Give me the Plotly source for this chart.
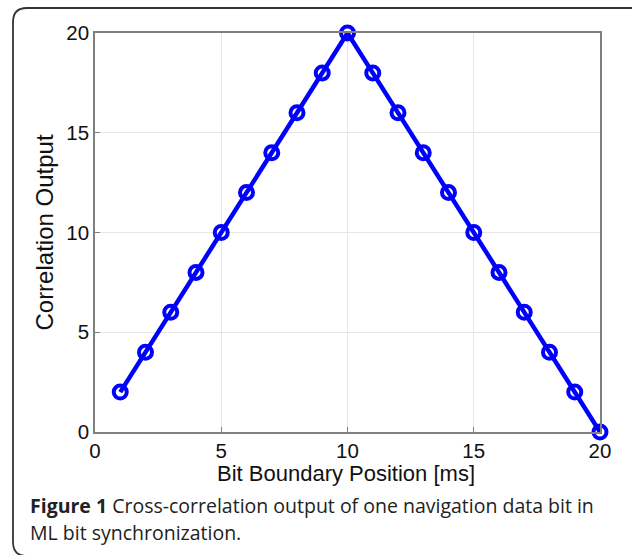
import plotly.graph_objects as go

x_ms = list(range(1, 21))
corr = [2, 4, 6, 8, 10, 12, 14, 16, 18, 20, 18, 16, 14, 12, 10, 8, 6, 4, 2, 0]
xticks = [0, 5, 10, 15, 20]
yticks = [0, 5, 10, 15, 20]

W, H = 632, 555
L, R, T, B = 95, 600, 33, 432
pw, ph = R - L, B - T

def px(x):
    return (x - L) / pw

def py(y):
    return (B - y) / ph

fig = go.Figure()
fig.add_trace(go.Scatter(
    x=x_ms, y=corr, mode="lines+markers",
    line=dict(color="#0000ff", width=4.5),
    marker=dict(symbol="circle-open", size=13, color="#0000ff", line=dict(width=4, color="#0000ff")),
    cliponaxis=False, showlegend=False,
))

fam = "Liberation Sans, Arial"
axis_common = dict(
    showline=True, linecolor="#808080", linewidth=1.5, mirror=True,
    showgrid=True, gridcolor="#e6e6e6", gridwidth=1,
    ticks="inside", ticklen=5, tickcolor="#808080",
    zeroline=False,
)
fig.update_xaxes(range=[0, 20], tickvals=xticks, ticktext=[str(v) for v in xticks],
                 tickfont=dict(family=fam, size=20.5, color="#111"),
                 **axis_common)
fig.update_yaxes(range=[0, 20], tickvals=yticks, ticktext=[str(v) for v in yticks],
                 tickfont=dict(family=fam, size=20.5, color="#111"),
                 title=dict(text="Correlation Output", font=dict(family=fam, size=24, color="#111"), standoff=6),
                 **axis_common)

# x-axis title placed as annotation to sit close to the tick labels
fig.add_annotation(xref="paper", yref="paper", x=px(346), y=py(473), xanchor="center", yanchor="middle",
                   text="Bit Boundary Position [ms]", showarrow=False,
                   font=dict(family=fam, size=22, color="#111"))

# rounded border (left/top visible)
x0, y0 = 13, 8
rr = 14
xr, yb = 650, 556
path = (f"M {px(x0)},{py(yb-rr)} L {px(x0)},{py(y0+rr)} "
        f"Q {px(x0)},{py(y0)} {px(x0+rr)},{py(y0)} L {px(xr)},{py(y0)} "
        f"M {px(x0)},{py(yb-rr)} Q {px(x0)},{py(yb)} {px(x0+rr)},{py(yb)}")
fig.add_shape(type="path", xref="paper", yref="paper", path=path,
              line=dict(color="#333333", width=1.8), layer="above")

cap_font = dict(family="Open Sans, Noto Sans", size=19.5, color="#222")
fig.add_annotation(xref="paper", yref="paper", x=px(28), y=py(506), xanchor="left", yanchor="middle",
                   text="<b>Figure 1</b> Cross-correlation output of one navigation data bit in",
                   showarrow=False, font=cap_font)
fig.add_annotation(xref="paper", yref="paper", x=px(28), y=py(532), xanchor="left", yanchor="middle",
                   text="ML bit synchronization.",
                   showarrow=False, font=cap_font)

fig.update_layout(
    width=W, height=H,
    margin=dict(l=L, r=W - R, t=T, b=H - B),
    paper_bgcolor="white", plot_bgcolor="white",
)
fig.write_html("out.html")
